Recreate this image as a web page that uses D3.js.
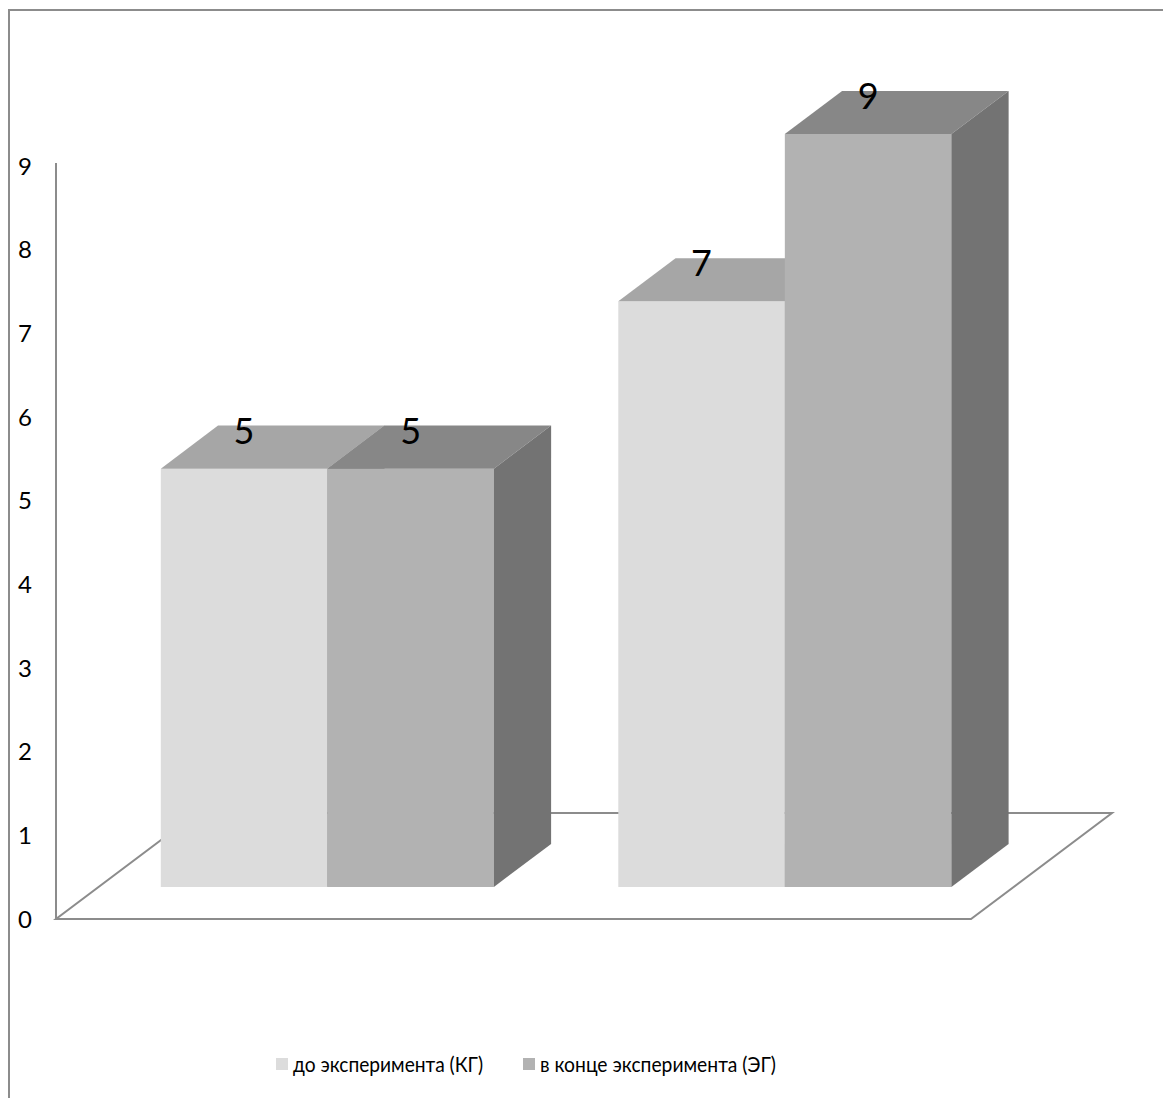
<!DOCTYPE html>
<html>
<head>
<meta charset="utf-8">
<script src="https://cdn.jsdelivr.net/npm/d3@7"></script>
<style>
  body { margin: 0; background: #ffffff; }
  text { font-family: Lato, "Open Sans", sans-serif; fill: #000; }
</style>
</head>
<body>
<svg id="chart" width="1163" height="1098"></svg>
<script>
// Data
const categories = ["1", "2"];
const seriesNames = ["до эксперимента (КГ)", "в конце эксперимента (ЭГ)"];
const seriesKG = [5, 7];
const seriesEG = [5, 9];
const yTicks = [0, 1, 2, 3, 4, 5, 6, 7, 8, 9];

const seriesValues = [seriesKG, seriesEG];
const frontColors = ["#dcdcdc", "#b2b2b2"];
const topColors = ["#a6a6a6", "#878787"];
const sideColors = ["#9a9a9a", "#737373"];
const lineColor = "#8c8c8c";

const svg = d3.select("#chart");

// Outer chart border
svg.append("rect")
  .attr("x", 9).attr("y", 10).attr("width", 1300).attr("height", 1300)
  .attr("fill", "none").attr("stroke", lineColor).attr("stroke-width", 2);

// Front plane scales
const y = d3.scaleLinear().domain([0, 9]).range([919, 166]);
const x0 = d3.scaleBand().domain(categories).range([56, 971])
  .paddingInner(0.272).paddingOuter(0.136);
const x1 = d3.scaleBand().domain(seriesNames).range([0, x0.bandwidth()]);

// Oblique depth projection: fraction of floor depth -> screen offset
const depthX = d3.scaleLinear().domain([0, 1]).range([0, 141]);
const depthY = d3.scaleLinear().domain([0, 1]).range([0, -106]);
const proj = (px, py, f) => [px + depthX(f), py + depthY(f)];
const barFront = 0.302, barBack = 0.708;

// Floor
const [fx0, fx1] = x0.range();
const floorPts = [proj(fx0, y(0), 0), proj(fx1, y(0), 0), proj(fx1, y(0), 1), proj(fx0, y(0), 1)];
svg.append("polygon")
  .attr("points", floorPts.map(p => p.join(",")).join(" "))
  .attr("fill", "#ffffff").attr("stroke", lineColor).attr("stroke-width", 2)
  .attr("stroke-linejoin", "miter");

// Vertical axis line
svg.append("line")
  .attr("x1", fx0).attr("x2", fx0)
  .attr("y1", y(0)).attr("y2", y(9) - 3)
  .attr("stroke", lineColor).attr("stroke-width", 2);

// Axis labels
svg.append("g").selectAll("text").data(yTicks).join("text")
  .attr("x", 32).attr("y", d => y(d) + 8.5)
  .attr("text-anchor", "end")
  .style("font-size", "24px")
  .text(d => d);

// Bars
const poly = pts => pts.map(p => p.join(",")).join(" ");
const bars = svg.append("g");
categories.forEach((cat, i) => {
  seriesNames.forEach((s, j) => {
    const v = seriesValues[j][i];
    const xl = x0(cat) + x1(s);
    const xr = xl + x1.bandwidth();
    const yt = y(v), yb = y(0);
    const g = bars.append("g");
    g.append("polygon")
      .attr("points", poly([proj(xl, yb, barFront), proj(xr, yb, barFront), proj(xr, yt, barFront), proj(xl, yt, barFront)]))
      .attr("fill", frontColors[j]);
    g.append("polygon")
      .attr("points", poly([proj(xl, yt, barFront), proj(xr, yt, barFront), proj(xr, yt, barBack), proj(xl, yt, barBack)]))
      .attr("fill", topColors[j]);
    g.append("polygon")
      .attr("points", poly([proj(xr, yt, barFront), proj(xr, yb, barFront), proj(xr, yb, barBack), proj(xr, yt, barBack)]))
      .attr("fill", sideColors[j]);
  });
});

// Value labels
const labels = svg.append("g");
categories.forEach((cat, i) => {
  seriesNames.forEach((s, j) => {
    const v = seriesValues[j][i];
    const xc = x0(cat) + x1(s) + x1.bandwidth() / 2;
    const p = proj(xc, y(v), barFront);
    labels.append("text")
      .attr("x", p[0]).attr("y", p[1] - 25)
      .attr("text-anchor", "middle")
      .style("font-size", "36px")
      .text(v);
  });
});

// Legend
const legendItems = [
  { name: seriesNames[0], color: frontColors[0], x: 276, w: 190 },
  { name: seriesNames[1], color: frontColors[1], x: 523, w: 236 }
];
const legend = svg.append("g");
legendItems.forEach(it => {
  legend.append("rect")
    .attr("x", it.x).attr("y", 1058).attr("width", 12).attr("height", 12)
    .attr("fill", it.color);
  legend.append("text")
    .attr("x", it.x + 17).attr("y", 1072)
    .style("font-size", "21px")
    .attr("textLength", it.w).attr("lengthAdjust", "spacingAndGlyphs")
    .text(it.name);
});
</script>
</body>
</html>
